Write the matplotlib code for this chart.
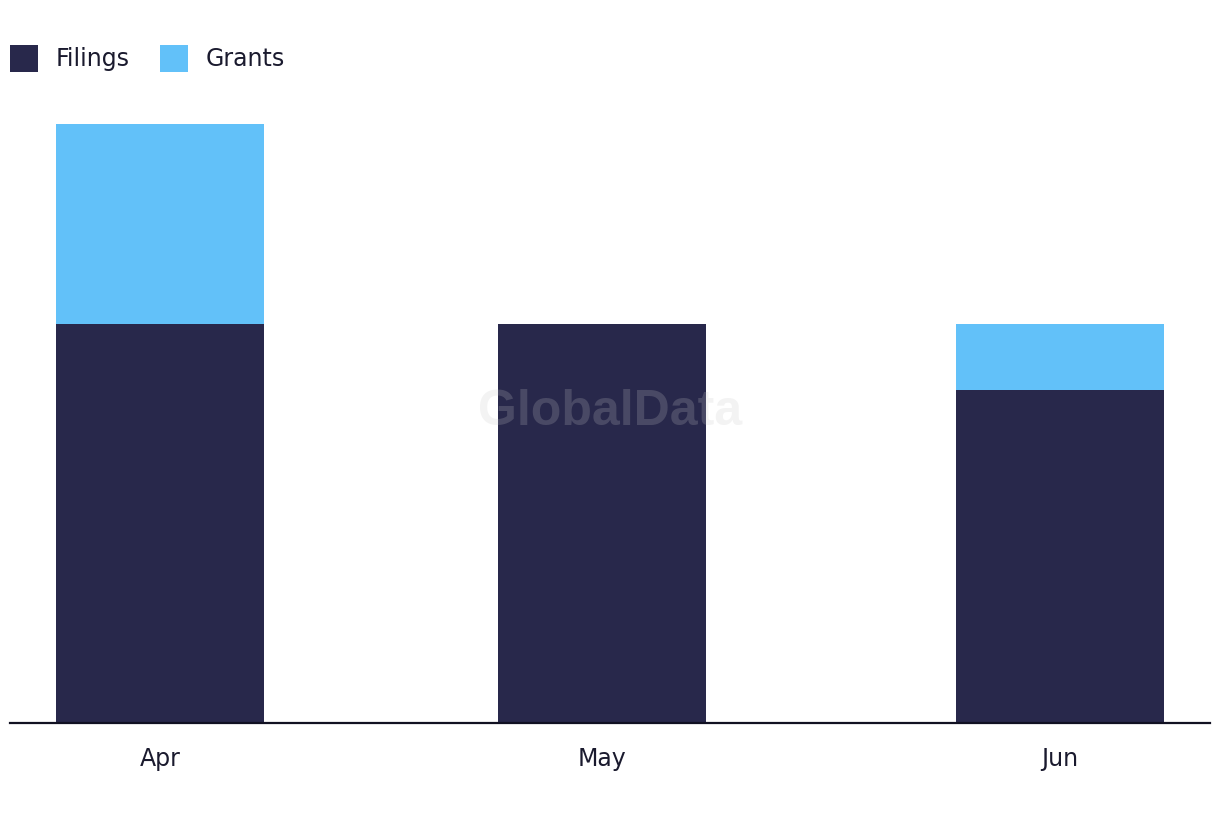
import matplotlib
matplotlib.use("Agg")
import matplotlib.pyplot as plt
import matplotlib.dates as mdates
import numpy as np
import datetime as dt

months = ["Apr", "May", "Jun"]
dates = [dt.date(2024, 4, 1), dt.date(2024, 5, 1), dt.date(2024, 6, 1)]
filings = [6, 6, 5]
grants = [3, 0, 1]

c_fil = "#28284b"
c_gra = "#62c1f9"

W, H = 1220, 822
fig = plt.figure(figsize=(W / 100, H / 100), dpi=100)
plt.rcParams['font.family'] = ['DejaVu Sans']

ax = fig.add_axes([10 / W, (H - 723) / H, 1200 / W, (723 - 124.5) / H])
x = mdates.date2num(dates)
width = 14.1
ax.bar(x, filings, width=width, color=c_fil, label="Filings")
ax.bar(x, grants, width=width, bottom=filings, color=c_gra, label="Grants")

x0 = mdates.date2num(dt.date(2024, 4, 1))
ax.set_xlim(x0 - 10.17, x0 + 71.2)
ax.set_ylim(0, 9)
ax.set_xticks(x)
ax.set_xticklabels(months, fontsize=17, color="#1a1a2e")
ax.tick_params(axis="x", length=0, pad=17)
ax.set_yticks([])
for s in ["top", "right", "left"]:
    ax.spines[s].set_visible(False)
ax.spines["bottom"].set_color("#111122")
ax.spines["bottom"].set_linewidth(1.6)

fig.text(610 / W, (H - 412) / H, "GlobalData", fontsize=36, fontweight="bold",
         family="Liberation Sans", color="#c7c7c7", alpha=0.21,
         ha="center", va="center", zorder=10)

handles, labels = ax.get_legend_handles_labels()
fig.legend(handles, labels, loc="upper left", bbox_to_anchor=(10 / W, 1 - 45 / H),
           ncol=2, frameon=False, fontsize=17, handlelength=1.2, handleheight=1.36,
           handletextpad=0.72, columnspacing=1.3, borderpad=0, borderaxespad=0,
           labelcolor="#1a1a2e")

fig.savefig("out.png", dpi=100)
